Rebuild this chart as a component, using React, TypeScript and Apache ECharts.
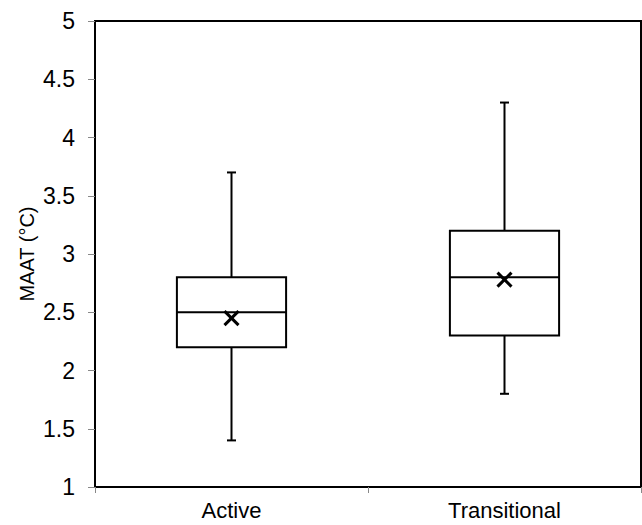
import React, { useEffect, useRef } from "react";
import * as echarts from "echarts";

const categories = ["Active", "Transitional"];
const mins = [1.4, 1.8];
const q1s = [2.2, 2.3];
const medians = [2.5, 2.8];
const q3s = [2.8, 3.2];
const maxs = [3.7, 4.3];
const means = [2.45, 2.78];

export default function App() {
  const ref = useRef<HTMLDivElement>(null);
  useEffect(() => {
    const chart = echarts.init(ref.current!, null, { renderer: "svg" });
    const data = categories.map((c, i) => [i, mins[i], q1s[i], medians[i], q3s[i], maxs[i], means[i]]);
    const font = "Liberation Sans, Arial, sans-serif";
    chart.setOption({
      animation: false,
      grid: {
        left: 95,
        top: 21,
        right: 1,
        bottom: 38,
        show: true,
        borderColor: "#000",
        borderWidth: 2,
        backgroundColor: "transparent",
      },
      xAxis: {
        type: "category",
        data: categories,
        boundaryGap: true,
        axisLine: { lineStyle: { color: "#000", width: 2 } },
        axisTick: { show: true, length: 6, lineStyle: { color: "#888", width: 1 } },
        axisLabel: { color: "#000", fontSize: 22, fontFamily: font, margin: 12 },
        splitLine: { show: false },
      },
      yAxis: {
        type: "value",
        min: 1,
        max: 5,
        interval: 0.5,
        name: "MAAT (°C)",
        nameLocation: "middle",
        nameGap: 58,
        nameMoveOverlap: false,
        nameTextStyle: { color: "#000", fontSize: 20, fontFamily: font },
        axisLine: { show: true, lineStyle: { color: "#000", width: 2 } },
        axisTick: { show: true, length: 7, lineStyle: { color: "#888", width: 1 } },
        axisLabel: { color: "#000", fontSize: 23, fontFamily: font, margin: 20 },
        splitLine: { show: false },
      },
      series: [
        {
          type: "custom",
          data,
          encode: { x: 0, y: [1, 2, 3, 4, 5, 6] },
          renderItem: (params: any, api: any) => {
            const idx = api.value(0);
            const pMin = api.coord([idx, api.value(1)]);
            const pQ1 = api.coord([idx, api.value(2)]);
            const pMed = api.coord([idx, api.value(3)]);
            const pQ3 = api.coord([idx, api.value(4)]);
            const pMax = api.coord([idx, api.value(5)]);
            const pMean = api.coord([idx, api.value(6)]);
            const bw = api.size([1, 0])[0] * 0.4;
            const cx = pMed[0];
            const half = bw / 2;
            const cap = 4.5;
            const xs = 7;
            const ls = { stroke: "#000", lineWidth: 2 };
            const lx = { stroke: "#000", lineWidth: 3 };
            return {
              type: "group",
              children: [
                { type: "line", shape: { x1: cx, y1: pMax[1], x2: cx, y2: pQ3[1] }, style: ls },
                { type: "line", shape: { x1: cx, y1: pQ1[1], x2: cx, y2: pMin[1] }, style: ls },
                { type: "line", shape: { x1: cx - cap, y1: pMax[1], x2: cx + cap, y2: pMax[1] }, style: ls },
                { type: "line", shape: { x1: cx - cap, y1: pMin[1], x2: cx + cap, y2: pMin[1] }, style: ls },
                {
                  type: "rect",
                  shape: { x: cx - half, y: pQ3[1], width: bw, height: pQ1[1] - pQ3[1] },
                  style: { fill: "#fff", stroke: "#000", lineWidth: 2 },
                },
                { type: "line", shape: { x1: cx - half, y1: pMed[1], x2: cx + half, y2: pMed[1] }, style: ls },
                { type: "line", shape: { x1: cx - xs, y1: pMean[1] - xs, x2: cx + xs, y2: pMean[1] + xs }, style: lx },
                { type: "line", shape: { x1: cx - xs, y1: pMean[1] + xs, x2: cx + xs, y2: pMean[1] - xs }, style: lx },
              ],
            };
          },
        },
      ],
    });
    return () => chart.dispose();
  }, []);
  return <div ref={ref} style={{ width: 642, height: 525, position: "absolute", left: 0, top: 0 }} />;
}
